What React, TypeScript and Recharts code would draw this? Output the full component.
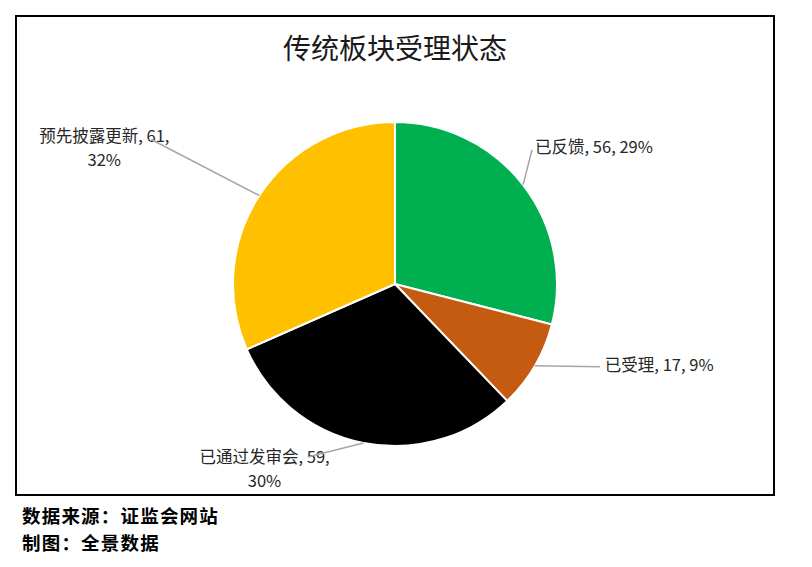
import React from 'react';
import { PieChart, Pie, Cell } from 'recharts';

const categories = ['已反馈', '已受理', '已通过发审会', '预先披露更新'];
const counts = [56, 17, 59, 61];
const shares = [29, 9, 30, 32];
const colors = ['#00B050', '#C55A11', '#000000', '#FFC000'];

const data = categories.map((name, i) => ({ name, value: counts[i], share: shares[i] }));

// leader line end (relative to slice edge) and label placement
const labelLayout = [
  { line: [9, -35], text: [12, -39], anchor: 'start', wrap: false },
  { line: [65, 1], text: [70, -2], anchor: 'start', wrap: false },
  { line: [-56, 14], text: [-99, 13], anchor: 'middle', wrap: true },
  { line: [-108, -56], text: [-155, -61], anchor: 'middle', wrap: true },
];

const FONT = '"Noto Sans CJK SC", "Noto Sans", sans-serif';
const RADIAN = Math.PI / 180;

const renderLabel = (props: any) => {
  const { cx, cy, midAngle, outerRadius, index, name, value, payload } = props;
  const sx = cx + outerRadius * Math.cos(-midAngle * RADIAN);
  const sy = cy + outerRadius * Math.sin(-midAngle * RADIAN);
  const l = labelLayout[index];
  const tx = sx + l.text[0];
  const ty = sy + l.text[1];
  const lines = l.wrap
    ? [`${name}, ${value},`, `${payload.share}%`]
    : [`${name}, ${value}, ${payload.share}%`];
  return (
    <g key={`lbl-${index}`}>
      {lines.map((t, k) => (
        <text
          key={k}
          x={tx}
          y={ty + k * 24}
          textAnchor={l.anchor}
          dominantBaseline="central"
          fill="#262626"
          fontSize={16.5}
          fontFamily={FONT}
        >
          {t}
        </text>
      ))}
      <line x1={sx} y1={sy} x2={sx + l.line[0]} y2={sy + l.line[1]} stroke="#A6A6A6" strokeWidth={1.5} />
    </g>
  );
};

export default function App() {
  return (
    <div style={{ position: 'absolute', left: 0, top: 0, width: 812, height: 567, background: '#fff', fontFamily: FONT }}>
      <div
        style={{
          position: 'absolute',
          left: 15,
          top: 15,
          width: 760,
          height: 481,
          border: '2px solid #000',
          boxSizing: 'border-box',
        }}
      />
      <div
        style={{
          position: 'absolute',
          left: 0,
          width: 790,
          top: 29,
          textAlign: 'center',
          fontSize: 28,
          color: '#1a1a1a',
          lineHeight: '36px',
        }}
      >
        传统板块受理状态
      </div>
      <div style={{ position: 'absolute', left: 0, top: 0 }}>
        <PieChart width={812} height={567} margin={{ top: 0, right: 0, bottom: 0, left: 0 }}>
          <Pie
            data={data}
            dataKey="value"
            nameKey="name"
            cx={395}
            cy={284}
            outerRadius={162}
            startAngle={90}
            endAngle={-270}
            stroke="#ffffff"
            strokeWidth={2}
            label={renderLabel}
            labelLine={false}
            isAnimationActive={false}
          >
            {data.map((d, i) => (
              <Cell key={d.name} fill={colors[i]} />
            ))}
          </Pie>
        </PieChart>
      </div>
      <div
        style={{
          position: 'absolute',
          left: 22,
          top: 502,
          fontSize: 18.5,
          letterSpacing: 1.2,
          fontWeight: 'bold',
          color: '#000',
          lineHeight: '27px',
        }}
      >
        <div>数据来源：证监会网站</div>
        <div>制图：全景数据</div>
      </div>
    </div>
  );
}
